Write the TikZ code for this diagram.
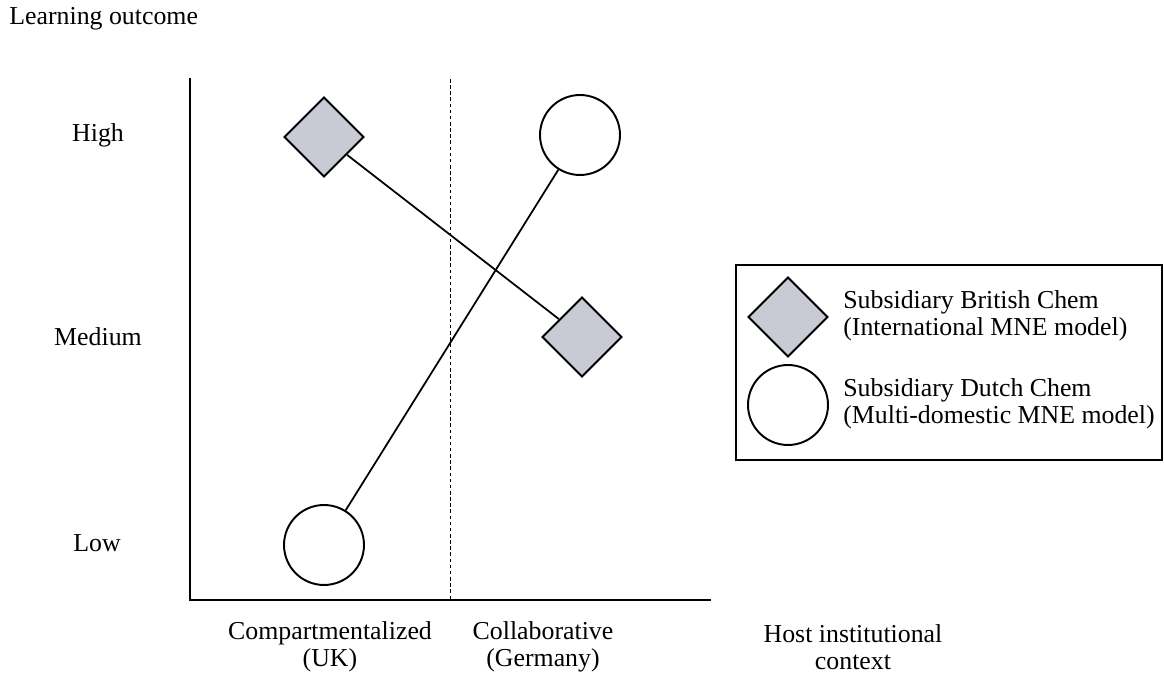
\documentclass[tikz,border=0pt]{standalone}
\usepackage{fontspec}
\setmainfont{Liberation Serif}
\usetikzlibrary{shapes.geometric}
\begin{document}
\begin{tikzpicture}[x=0.02cm,y=-0.02cm]
\definecolor{diafill}{RGB}{200,203,212}
\tikzset{lbl/.style={font=\fontsize{14.7pt}{15.5pt}\selectfont, inner sep=0pt, align=center},
  dia/.style={diamond, draw=black, fill=diafill, line width=1.1pt, minimum width=1.6cm, minimum height=1.6cm, inner sep=0pt},
  circ/.style={circle, draw=black, fill=white, line width=1.1pt, minimum size=1.6cm, inner sep=0pt},
  conn/.style={draw=black, line width=1pt}}
\useasboundingbox (0,0) rectangle (1164,675);
% axes
\coordinate (ytop) at (190,78);
\coordinate (orig) at (190,600);
\coordinate (xend) at (711,600);
\coordinate (dtop) at (450,79);
\coordinate (dbot) at (450,600);
\draw[line width=1.4pt] (ytop) -- (orig) -- (xend);
\draw[dash pattern=on 2pt off 1.5pt, line width=0.5pt] (dtop) -- (dbot);
% markers
\node[dia] (d1) at (324,137) {};
\node[dia] (d2) at (582,337) {};
\node[circ] (c1) at (580,135) {};
\node[circ] (c2) at (324,545) {};
\draw[conn] (d1) -- (d2);
\draw[conn] (c2) -- (c1);
% labels
\node[lbl, anchor=west] (lo) at (9,19) {Learning outcome};
\node[lbl] (hi) at (98,135) {High};
\node[lbl] (me) at (98,337) {Medium};
\node[lbl] (low) at (97,543) {Low};
\node[lbl] (xa) at (330,647) {Compartmentalized\\(UK)};
\node[lbl] (xb) at (543,647) {Collaborative\\(Germany)};
\node[lbl] (xc) at (853,647) {Host institutional\\context};
% legend
\node[draw=black, line width=1.1pt, minimum width=8.52cm, minimum height=3.9cm, inner sep=0pt] (leg) at (949,362.5) {};
\node[dia] (ld) at (788,317) {};
\node[circ] (lc) at (788,405) {};
\node[lbl, anchor=west, align=left] (lt1) at (843,316) {Subsidiary British Chem\\(International MNE model)};
\node[lbl, anchor=west, align=left] (lt2) at (843,404) {Subsidiary Dutch Chem\\(Multi-domestic MNE model)};
\end{tikzpicture}
\end{document}
